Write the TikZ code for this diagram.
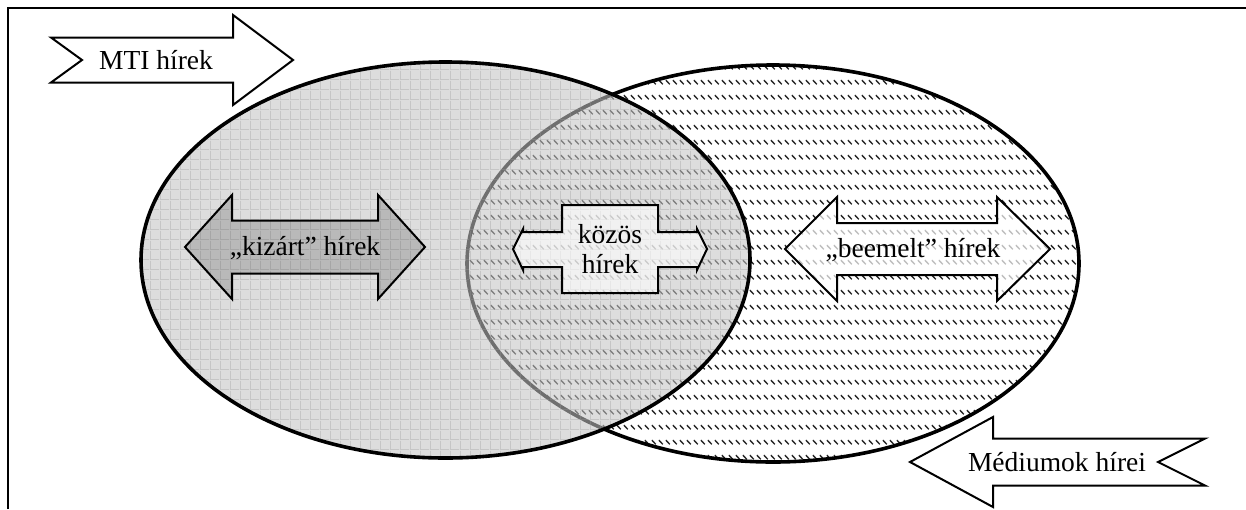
\documentclass[tikz,border=0pt]{standalone}
\usepackage{fontspec}
\setmainfont{Liberation Serif}
\usetikzlibrary{patterns.meta}
\pgfdeclarepattern{name=dgrid, type=uncolored,
  bottom left={\pgfpointorigin}, top right={\pgfpoint{10pt}{10pt}},
  tile size={\pgfpoint{10pt}{10pt}},
  code={\pgfsetlinewidth{1pt}
    \pgfpathmoveto{\pgfpoint{0pt}{0.5pt}}\pgfpathlineto{\pgfpoint{10pt}{0.5pt}}
    \pgfpathmoveto{\pgfpoint{0.5pt}{0pt}}\pgfpathlineto{\pgfpoint{0.5pt}{10pt}}
    \pgfusepath{stroke}}}
\pgfdeclarepattern{name=hatchrows, type=uncolored,
  bottom left={\pgfpointorigin}, top right={\pgfpoint{7pt}{15pt}},
  tile size={\pgfpoint{7pt}{15pt}},
  code={\pgfsetlinewidth{1.5pt}
    \pgfpathmoveto{\pgfpoint{1pt}{10.5pt}}\pgfpathlineto{\pgfpoint{5.5pt}{6pt}}
    \pgfusepath{stroke}}}
\begin{document}
\begin{tikzpicture}[x=1pt,y=-1pt,
  lbl/.style={font=\fontsize{27.5}{30}\selectfont, align=center, inner sep=0pt},
  arrowshape/.style={draw=black, line width=2pt, line join=miter},
  ellipseline/.style={draw=black, line width=3.6pt}]
\useasboundingbox (0,0) rectangle (1246,509);
% frame
\draw[line width=2.7pt] (8,509) -- (8,8) -- (1246,8);
% right ellipse (hatched)
\fill[white] (773,263.5) ellipse [x radius=306pt, y radius=198.5pt];
\fill[pattern=hatchrows, pattern color=black!85] (773,263.5) ellipse [x radius=306pt, y radius=198.5pt];
\draw[ellipseline] (773,263.5) ellipse [x radius=306pt, y radius=198.5pt];
% left ellipse (grey grid, translucent)
\fill[fill=black!23, fill opacity=0.57] (445.5,260) ellipse [x radius=304.5pt, y radius=198pt];
\fill[pattern=dgrid, pattern color=black!40, fill opacity=0.35] (445.5,260) ellipse [x radius=304.5pt, y radius=198pt];
\draw[ellipseline] (445.5,260) ellipse [x radius=304.5pt, y radius=198pt];
% MTI arrow
\draw[arrowshape, fill=white] (51,37.5) -- (233,37.5) -- (233,15) -- (293,60) -- (233,105) -- (233,82.5) -- (51,82.5) -- (82,60) -- cycle;
\node[lbl] (mti) at (156,60) {MTI hírek};
% Medium arrow
\draw[arrowshape, fill=white] (910,462) -- (993,417) -- (993,438.5) -- (1205,438.5) -- (1158,462) -- (1205,485.5) -- (993,485.5) -- (993,507) -- cycle;
\node[lbl] (med) at (1057,462) {Médiumok hírei};
% kizart arrow
\draw[arrowshape, fill=black, fill opacity=0.16] (185,247) -- (232,195) -- (232,220.5) -- (378,220.5) -- (378,195) -- (425,247) -- (378,299) -- (378,273.5) -- (232,273.5) -- (232,299) -- cycle;
\node[lbl] (kiz) at (305,248) {„kizárt” hírek};
% beemelt arrow
\draw[arrowshape, fill=white, fill opacity=0.7] (785,249) -- (837,197) -- (837,223) -- (997,223) -- (997,197) -- (1050,249) -- (997,301) -- (997,275) -- (837,275) -- (837,301) -- cycle;
\node[lbl] (bee) at (913,250) {„beemelt” hírek};
% kozos arrow
\draw[arrowshape, fill=white, fill opacity=0.6] (513,249) -- (523,229) -- (523,232) -- (562,232) -- (562,205) -- (658,205) -- (658,232) -- (697,232) -- (697,229) -- (707,249) -- (697,270) -- (697,267) -- (658,267) -- (658,293) -- (562,293) -- (562,267) -- (523,267) -- (523,270) -- cycle;
\node[lbl] (koz) at (610,249) {közös\\hírek};
\end{tikzpicture}
\end{document}
